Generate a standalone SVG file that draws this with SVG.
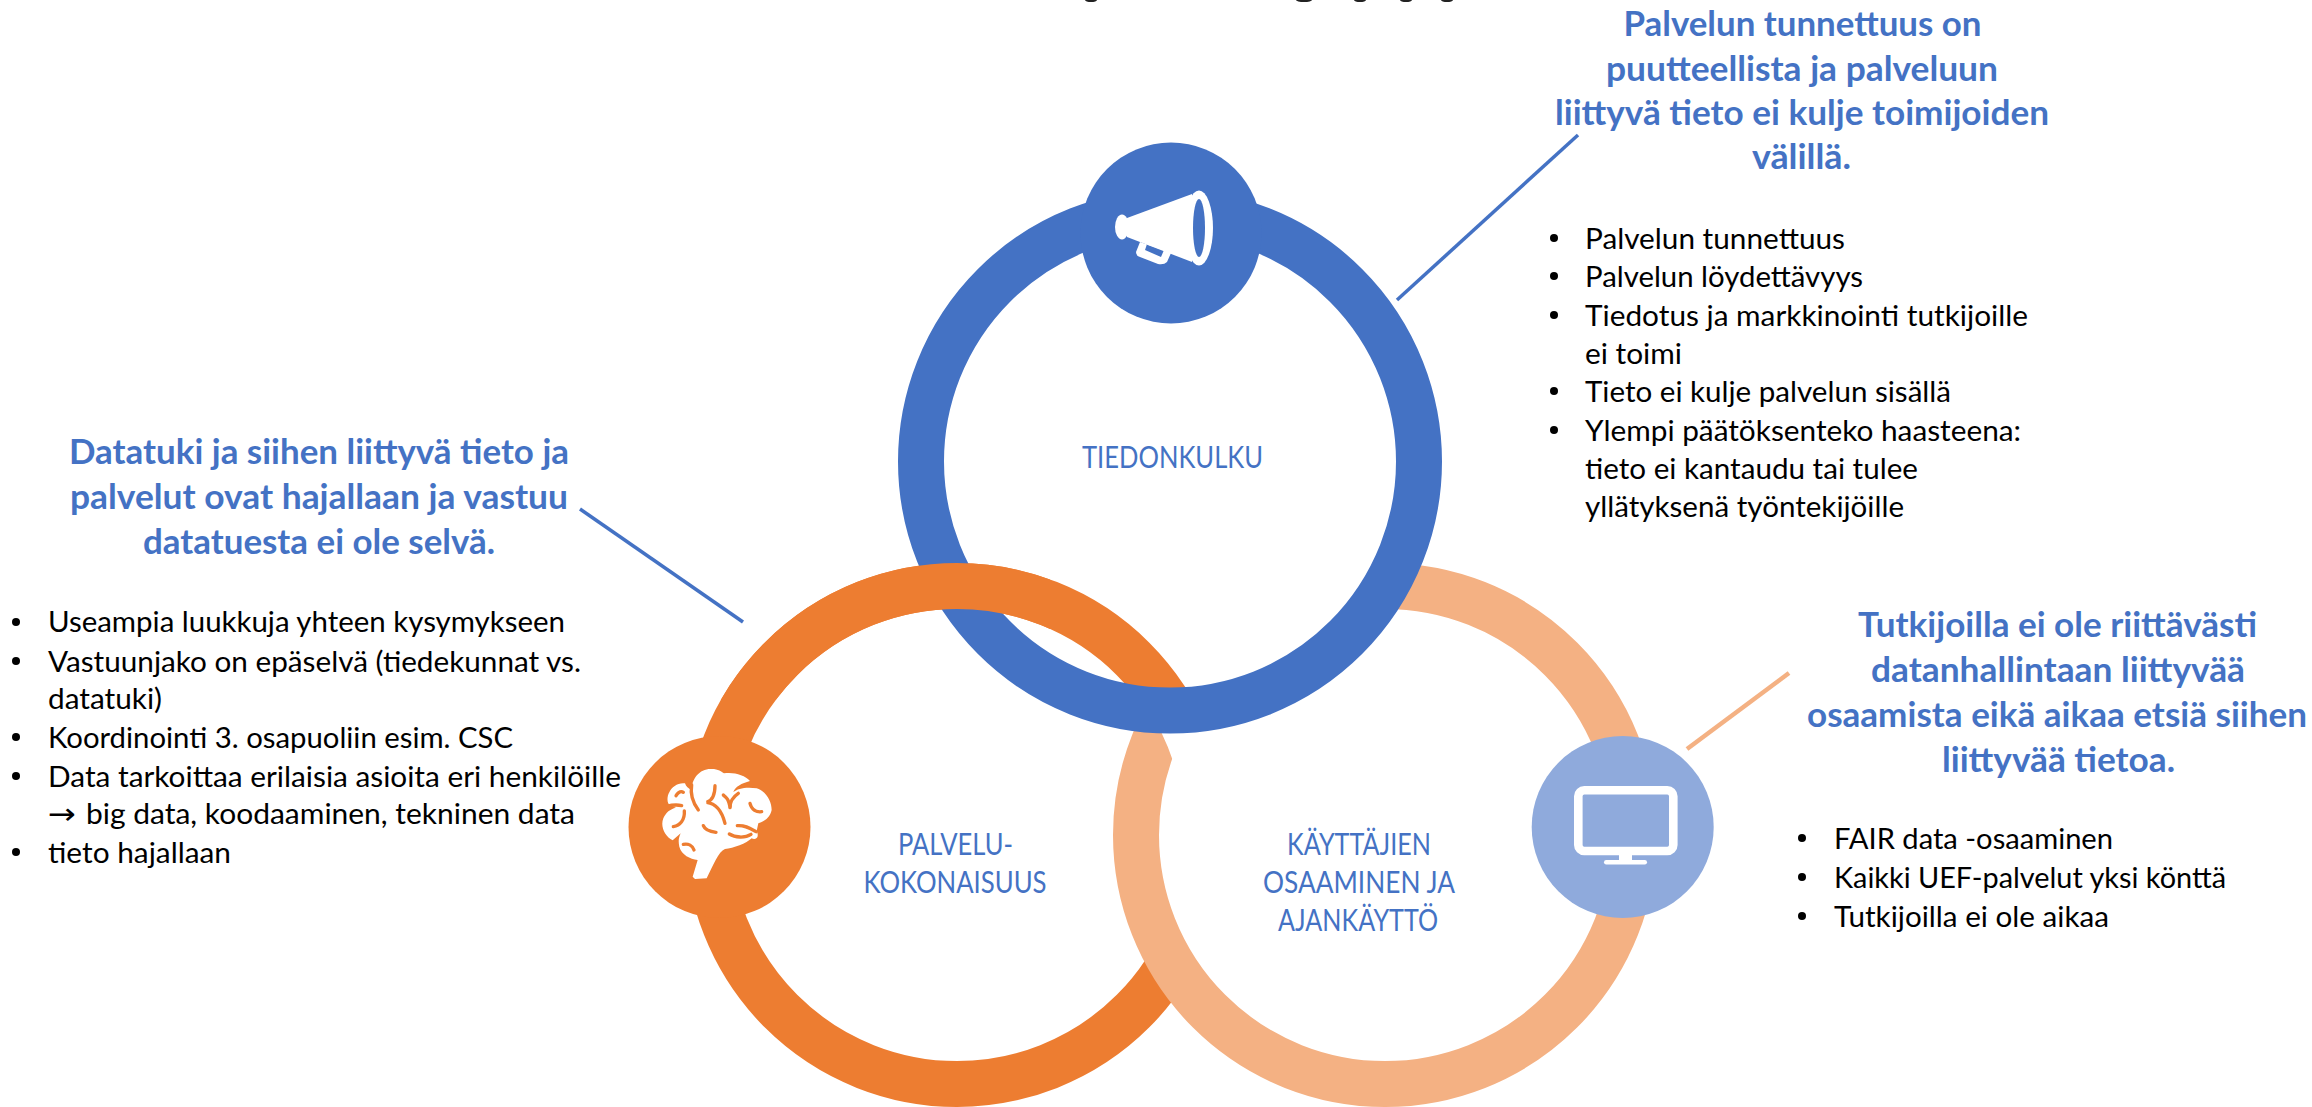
<svg xmlns="http://www.w3.org/2000/svg" width="2312" height="1107" viewBox="0 0 2312 1107">
<style>
text{font-family:Lato,"Liberation Sans",sans-serif}
.h{font-size:34.500px;font-weight:700;fill:#4472C4;text-anchor:middle}
.b{font-size:29.500px;fill:#000}
.l{font-size:30px;font-weight:400;fill:#4472C4;text-anchor:middle}
.ring{fill:none;stroke-width:46}
.bn{fill:none;stroke:#ED7D31;stroke-width:10;stroke-linecap:round}
</style>
<defs>
<clipPath id="outsideBlue"><path clip-rule="evenodd" d="M0 0H2312V1107H0Z M920 461.500a250 250 0 1 0 500 0a250 250 0 1 0 -500 0Z"/></clipPath>
<clipPath id="leftCross"><rect x="600" y="500" width="450" height="200"/></clipPath>
</defs>
<rect width="2312" height="1107" fill="#fff"/>
<g id="title-fragments" fill="#222">
<ellipse cx="1091" cy="0" rx="6" ry="2"/><ellipse cx="1304" cy="0" rx="8" ry="2"/><ellipse cx="1360" cy="0" rx="6" ry="2"/><ellipse cx="1406" cy="0" rx="6" ry="2"/><ellipse cx="1447" cy="0" rx="6" ry="2"/>
</g>
<g id="rings">
<circle class="ring" cx="957" cy="835" r="249" stroke="#ED7D31"/>
<g clip-path="url(#outsideBlue)">
<circle class="ring" cx="1385" cy="835" r="249" stroke="#F4B183" style="fill:#fff"/>
<path d="M1161.600 733A226 226 0 0 1 1173 761L1210 761L1210 700L1161.600 700Z" fill="#fff"/>
</g>
<circle class="ring" cx="1170" cy="461.500" r="249" stroke="#4472C4"/>
<circle class="ring" cx="957" cy="835" r="249" stroke="#ED7D31" clip-path="url(#leftCross)"/>
</g>
<g id="connectors" fill="none">
<line x1="1397" y1="300" x2="1578" y2="135" stroke="#4472C4" stroke-width="3.500"/>
<line x1="580" y1="509" x2="743" y2="622" stroke="#4472C4" stroke-width="3.500"/>
<line x1="1687" y1="749" x2="1789" y2="673" stroke="#F4B183" stroke-width="4.500"/>
</g>
<g id="node-tiedonkulku">
<circle cx="1171" cy="233" r="90.500" fill="#4472C4"/>
<g fill="#fff">
<ellipse cx="1122" cy="227" rx="7" ry="12.500"/>
<path d="M1127 218L1192 194L1192 262L1127 237Z"/>
<path fill-rule="evenodd" d="M1140 242L1136 252Q1136 256 1140 257L1158 264Q1164 265 1167 262L1171 253ZM1147 244L1164 250L1161 257L1145 250Z"/>
<ellipse cx="1199" cy="228" rx="14" ry="37.500"/>
</g>
<ellipse cx="1199" cy="228" rx="6" ry="29" fill="#4472C4"/>
<text class="l" x="1172.500" y="468" textLength="181" lengthAdjust="spacingAndGlyphs">TIEDONKULKU</text>
</g>
<g id="node-palvelukokonaisuus">
<circle cx="719.500" cy="827" r="91" fill="#ED7D31"/>
<g transform="translate(650 755) scale(.3333)">
<path fill="#fff" d="M128 365L143 315C120 312 95 300 88 275C85 260 85 250 92 235L68 256C45 245 30 215 40 190C48 172 60 162 78 158L62 152C50 148 50 125 58 112C65 95 85 82 105 85C108 95 115 100 125 105C125 70 150 40 185 42C205 42 215 50 222 55C250 50 285 60 300 78C275 85 255 95 250 112C262 100 290 95 320 100C350 110 365 140 365 165C360 190 340 200 325 205L320 228C330 250 315 255 305 250C290 265 250 280 225 282C205 290 190 330 170 370L135 372Z"/>
<g class="bn">
<path d="M100 112C90 105 80 118 78 122"/>
<path d="M103 168C105 195 90 212 70 215"/>
<path d="M50 154C65 150 80 148 95 152"/>
<path d="M125 90C120 120 130 145 145 165"/>
<path d="M195 92C195 115 190 135 170 142C195 145 215 165 225 205"/>
<path d="M220 120C230 130 235 130 240 155"/>
<path d="M265 115C250 125 240 140 240 158"/>
<path d="M300 145C305 165 320 172 335 170"/>
<path d="M160 212C165 225 180 230 198 232"/>
<path d="M238 237C255 248 285 250 303 238"/>
<path d="M262 212C285 210 300 220 318 230"/>
<path d="M100 268C115 265 128 272 132 285"/>
</g>
</g>
<text class="l" x="955.500" y="855" textLength="115" lengthAdjust="spacingAndGlyphs">PALVELU-</text>
<text class="l" x="955" y="893" textLength="183" lengthAdjust="spacingAndGlyphs">KOKONAISUUS</text>
</g>
<g id="node-kayttajien">
<circle cx="1622.700" cy="827" r="91" fill="#8FAADC"/>
<rect x="1578.300" y="790.300" width="95" height="60.700" rx="6" fill="none" stroke="#fff" stroke-width="8.600"/>
<rect x="1619" y="855" width="13" height="6" fill="#fff"/>
<rect x="1604" y="860" width="43" height="4.500" rx="2.200" fill="#fff"/>
<text class="l" x="1359" y="855" textLength="144" lengthAdjust="spacingAndGlyphs">KÄYTTÄJIEN</text>
<text class="l" x="1359" y="893" textLength="192" lengthAdjust="spacingAndGlyphs">OSAAMINEN JA</text>
<text class="l" x="1358" y="931" textLength="160" lengthAdjust="spacingAndGlyphs">AJANKÄYTTÖ</text>
</g>
<g id="note-top">
<text class="h" x="1802.500" y="35.500" textLength="358" lengthAdjust="spacingAndGlyphs">Palvelun tunnettuus on</text>
<text class="h" x="1802" y="80.500" textLength="392" lengthAdjust="spacingAndGlyphs">puutteellista ja palveluun</text>
<text class="h" x="1802" y="124.500" textLength="494" lengthAdjust="spacingAndGlyphs">liittyvä tieto ei kulje toimijoiden</text>
<text class="h" x="1801.500" y="169" textLength="99" lengthAdjust="spacingAndGlyphs">välillä.</text>
<g fill="#000"><circle cx="1554" cy="238" r="4"/><circle cx="1554" cy="276" r="4"/><circle cx="1554" cy="315" r="4"/><circle cx="1554" cy="391" r="4"/><circle cx="1554" cy="430" r="4"/></g>
<text class="b" x="1585" y="249" textLength="260" lengthAdjust="spacingAndGlyphs">Palvelun tunnettuus</text>
<text class="b" x="1585" y="287" textLength="278" lengthAdjust="spacingAndGlyphs">Palvelun löydettävyys</text>
<text class="b" x="1585" y="326" textLength="443" lengthAdjust="spacingAndGlyphs">Tiedotus ja markkinointi tutkijoille</text>
<text class="b" x="1585" y="364" textLength="97" lengthAdjust="spacingAndGlyphs">ei toimi</text>
<text class="b" x="1585" y="402" textLength="366" lengthAdjust="spacingAndGlyphs">Tieto ei kulje palvelun sisällä</text>
<text class="b" x="1585" y="441" textLength="436" lengthAdjust="spacingAndGlyphs">Ylempi päätöksenteko haasteena:</text>
<text class="b" x="1585" y="479" textLength="333" lengthAdjust="spacingAndGlyphs">tieto ei kantaudu tai tulee</text>
<text class="b" x="1585" y="517" textLength="319" lengthAdjust="spacingAndGlyphs">yllätyksenä työntekijöille</text>
</g>
<g id="note-left">
<text class="h" x="319" y="464" textLength="500" lengthAdjust="spacingAndGlyphs">Datatuki ja siihen liittyvä tieto ja</text>
<text class="h" x="319" y="509" textLength="498" lengthAdjust="spacingAndGlyphs">palvelut ovat hajallaan ja vastuu</text>
<text class="h" x="319" y="554" textLength="352" lengthAdjust="spacingAndGlyphs">datatuesta ei ole selvä.</text>
<g fill="#000"><circle cx="16" cy="622" r="4"/><circle cx="16" cy="661" r="4"/><circle cx="16" cy="737" r="4"/><circle cx="16" cy="776" r="4"/><circle cx="16" cy="852" r="4"/></g>
<text class="b" x="48" y="632" textLength="517" lengthAdjust="spacingAndGlyphs">Useampia luukkuja yhteen kysymykseen</text>
<text class="b" x="48" y="672" textLength="533" lengthAdjust="spacingAndGlyphs">Vastuunjako on epäselvä (tiedekunnat vs.</text>
<text class="b" x="48" y="709" textLength="114" lengthAdjust="spacingAndGlyphs">datatuki)</text>
<text class="b" x="48" y="748" textLength="465" lengthAdjust="spacingAndGlyphs">Koordinointi 3. osapuoliin esim. CSC</text>
<text class="b" x="48" y="787" textLength="573" lengthAdjust="spacingAndGlyphs">Data tarkoittaa erilaisia asioita eri henkilöille</text>
<text class="b" x="48" y="824" textLength="28" lengthAdjust="spacingAndGlyphs" style="font-family:'DejaVu Sans',sans-serif">→</text>
<text class="b" x="86" y="824" textLength="489" lengthAdjust="spacingAndGlyphs">big data, koodaaminen, tekninen data</text>
<text class="b" x="48" y="863" textLength="183" lengthAdjust="spacingAndGlyphs">tieto hajallaan</text>
</g>
<g id="note-right">
<text class="h" x="2057.500" y="637" textLength="399" lengthAdjust="spacingAndGlyphs">Tutkijoilla ei ole riittävästi</text>
<text class="h" x="2058" y="682" textLength="374" lengthAdjust="spacingAndGlyphs">datanhallintaan liittyvää</text>
<text class="h" x="2057" y="727" textLength="500" lengthAdjust="spacingAndGlyphs">osaamista eikä aikaa etsiä siihen</text>
<text class="h" x="2058.500" y="772" textLength="233" lengthAdjust="spacingAndGlyphs">liittyvää tietoa.</text>
<g fill="#000"><circle cx="1802" cy="838" r="4"/><circle cx="1802" cy="877" r="4"/><circle cx="1802" cy="916" r="4"/></g>
<text class="b" x="1834" y="849" textLength="279" lengthAdjust="spacingAndGlyphs">FAIR data -osaaminen</text>
<text class="b" x="1834" y="888" textLength="392" lengthAdjust="spacingAndGlyphs">Kaikki UEF-palvelut yksi könttä</text>
<text class="b" x="1834" y="927" textLength="275" lengthAdjust="spacingAndGlyphs">Tutkijoilla ei ole aikaa</text>
</g>
</svg>
